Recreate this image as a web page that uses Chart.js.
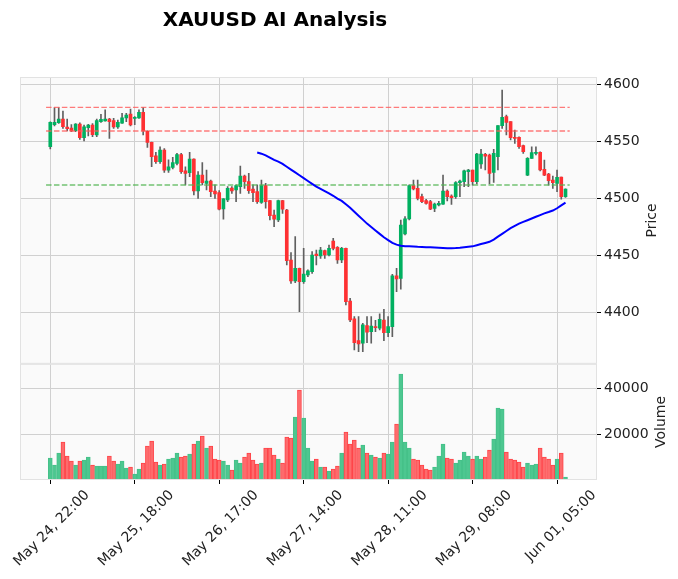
<!DOCTYPE html>
<html>
<head>
<meta charset="utf-8">
<script src="https://cdn.jsdelivr.net/npm/chart.js@4.4.0/dist/chart.umd.min.js"></script>
<style>
    html, body { margin: 0; padding: 0; background: #fff; }
    #wrap { position: relative; width: 678px; height: 579px; }
</style>
</head>
<body>
<div id="wrap"><canvas id="chart" width="678" height="579"></canvas></div>
<script>
// hourly candles
const opens = [4545.6, 4565.0, 4566.7, 4570.0, 4562.9, 4562.0, 4559.7, 4565.5, 4553.5, 4562.3,
    4564.7, 4556.0, 4567.6, 4568.2, 4570.0, 4568.5, 4563.0, 4566.4, 4571.0, 4574.3,
    4570.5, 4571.0, 4575.8, 4559.4, 4549.4, 4537.7, 4532.4, 4542.7, 4525.0, 4527.5,
    4531.0, 4538.6, 4524.5, 4522.8, 4534.8, 4506.7, 4520.7, 4513.4, 4515.5, 4506.7,
    4505.2, 4490.9, 4498.8, 4509.3, 4507.6, 4510.5, 4519.9, 4514.9, 4508.4, 4506.1,
    4496.7, 4511.4, 4498.2, 4485.6, 4481.2, 4498.2, 4490.0, 4446.0, 4427.6, 4438.7,
    4427.0, 4432.9, 4435.8, 4451.3, 4449.6, 4454.2, 4450.4, 4462.7, 4457.2, 4446.0,
    4456.3, 4410.0, 4394.2, 4375.2, 4372.8, 4388.3, 4383.1, 4387.5, 4386.0, 4393.3,
    4382.2, 4387.5, 4432.0, 4429.9, 4468.9, 4482.1, 4511.4, 4509.0, 4501.7, 4498.2,
    4497.3, 4491.4, 4494.4, 4495.2, 4506.7, 4502.3, 4501.7, 4514.0, 4514.9, 4523.7,
    4525.1, 4514.9, 4530.4, 4538.9, 4538.3, 4523.1, 4536.8, 4564.1, 4572.0, 4567.6,
    4553.8, 4553.8, 4546.5, 4520.7, 4535.4, 4539.8, 4540.6, 4525.7, 4521.6, 4516.3,
    4513.4, 4518.9, 4501.7];
const highs = [4567.5, 4580.0, 4580.0, 4577.0, 4570.0, 4565.0, 4566.0, 4566.7, 4564.7, 4565.3,
    4566.0, 4570.0, 4574.0, 4578.0, 4570.5, 4570.5, 4569.0, 4575.0, 4575.0, 4578.7,
    4572.0, 4578.0, 4580.0, 4559.6, 4549.6, 4540.6, 4545.6, 4544.0, 4534.0, 4536.3,
    4539.8, 4539.8, 4528.0, 4540.7, 4535.0, 4523.7, 4531.6, 4525.0, 4516.3, 4512.0,
    4507.0, 4500.0, 4510.5, 4510.5, 4512.0, 4528.6, 4520.7, 4522.2, 4512.0, 4512.0,
    4516.3, 4513.4, 4498.5, 4490.0, 4498.8, 4498.5, 4490.6, 4452.5, 4466.5, 4439.0,
    4456.3, 4437.3, 4453.4, 4454.8, 4457.2, 4454.8, 4459.2, 4465.0, 4457.8, 4457.2,
    4456.6, 4412.3, 4396.3, 4396.3, 4390.4, 4396.3, 4396.3, 4393.0, 4398.6, 4402.7,
    4396.3, 4433.4, 4438.7, 4481.2, 4484.1, 4512.0, 4516.3, 4516.3, 4504.0, 4499.4,
    4498.5, 4496.0, 4497.5, 4520.7, 4507.6, 4503.2, 4514.9, 4516.3, 4525.1, 4525.7,
    4525.1, 4539.8, 4543.3, 4539.8, 4539.2, 4543.3, 4564.1, 4595.4, 4573.5, 4567.6,
    4560.3, 4554.4, 4547.1, 4536.0, 4545.6, 4545.6, 4541.2, 4533.9, 4522.2, 4519.9,
    4525.1, 4519.0, 4508.6];
const lows = [4543.6, 4564.0, 4566.0, 4561.7, 4559.4, 4558.8, 4558.8, 4552.0, 4550.6, 4555.0,
    4554.4, 4554.4, 4567.0, 4568.0, 4553.0, 4561.7, 4561.7, 4566.0, 4567.6, 4564.0,
    4565.0, 4570.5, 4556.0, 4545.0, 4528.0, 4531.0, 4531.0, 4523.0, 4523.0, 4526.0,
    4529.5, 4522.2, 4512.0, 4519.3, 4503.2, 4500.2, 4512.0, 4507.6, 4501.7, 4500.2,
    4490.0, 4481.8, 4497.3, 4504.6, 4497.3, 4504.6, 4509.0, 4504.6, 4497.3, 4495.8,
    4495.8, 4491.5, 4481.2, 4475.3, 4479.7, 4487.0, 4441.6, 4425.5, 4426.0, 4400.6,
    4425.5, 4431.4, 4434.3, 4441.6, 4447.5, 4447.5, 4449.6, 4454.8, 4443.1, 4443.7,
    4406.5, 4391.9, 4367.0, 4365.5, 4365.5, 4373.4, 4372.8, 4383.0, 4384.5, 4375.0,
    4378.7, 4378.7, 4418.2, 4420.3, 4468.0, 4481.2, 4507.6, 4498.8, 4496.4, 4495.0,
    4490.2, 4488.5, 4493.5, 4494.9, 4497.9, 4494.9, 4500.2, 4501.7, 4510.5, 4510.5,
    4511.9, 4512.8, 4526.6, 4525.1, 4512.8, 4514.3, 4525.1, 4561.7, 4555.9, 4551.5,
    4548.6, 4544.2, 4539.8, 4520.1, 4535.4, 4538.3, 4524.3, 4520.1, 4511.9, 4509.0,
    4506.1, 4499.6, 4501.0];
const closes = [4567.0, 4567.0, 4570.0, 4563.2, 4561.4, 4559.4, 4565.5, 4553.5, 4563.2, 4564.7,
    4556.2, 4568.5, 4569.6, 4570.0, 4567.6, 4563.0, 4567.0, 4571.0, 4573.5, 4564.7,
    4571.5, 4575.8, 4559.4, 4549.4, 4536.8, 4532.4, 4542.7, 4525.0, 4528.0, 4531.6,
    4538.6, 4523.7, 4522.2, 4534.8, 4506.7, 4520.7, 4514.0, 4515.5, 4506.1, 4504.0,
    4490.6, 4499.7, 4509.0, 4506.7, 4511.4, 4519.9, 4514.9, 4507.0, 4505.2, 4497.3,
    4511.4, 4497.3, 4485.0, 4481.8, 4498.2, 4490.6, 4445.5, 4427.6, 4438.7, 4427.0,
    4433.7, 4436.4, 4450.4, 4449.8, 4454.8, 4450.4, 4456.3, 4456.3, 4446.0, 4456.3,
    4409.4, 4393.3, 4373.4, 4372.2, 4389.0, 4382.5, 4388.0, 4386.5, 4393.9, 4382.2,
    4387.5, 4432.0, 4429.3, 4476.8, 4482.1, 4511.4, 4508.4, 4500.2, 4497.3, 4495.8,
    4490.8, 4495.2, 4495.8, 4506.7, 4501.7, 4500.8, 4514.0, 4515.5, 4524.3, 4525.1,
    4514.9, 4539.2, 4539.2, 4537.4, 4522.2, 4539.8, 4564.1, 4571.4, 4567.0, 4553.5,
    4552.9, 4545.6, 4541.2, 4535.4, 4540.4, 4540.6, 4525.1, 4520.7, 4515.8, 4514.0,
    4518.7, 4501.7, 4508.4];
const volumes = [9565, 6520, 11740, 16520, 10430, 8260, 6520, 8260, 8700, 10000,
    6520, 6090, 6090, 6090, 10430, 8260, 6960, 8260, 5220, 5650,
    2610, 4780, 7390, 14780, 16960, 7830, 6520, 6960, 9130, 9565,
    11740, 10000, 10430, 11300, 15650, 16960, 19130, 13910, 14780, 9130,
    8700, 8260, 6520, 4350, 8700, 7390, 10000, 11740, 8700, 6960,
    7390, 13910, 13910, 10870, 9130, 7390, 18700, 18260, 27390, 39130,
    26960, 13910, 8260, 9130, 5650, 5650, 3910, 4780, 6090, 11740,
    20870, 15650, 17390, 13910, 15220, 11740, 10870, 10000, 9565, 11740,
    11300, 16520, 24350, 46090, 16520, 13910, 9130, 8700, 6520, 4780,
    4350, 5650, 10430, 15650, 9565, 9130, 7390, 8700, 12170, 10430,
    9130, 10430, 9130, 10000, 13040, 17830, 31300, 30870, 12170, 9130,
    8700, 7830, 5650, 7390, 6520, 6960, 13910, 10000, 9130, 6520,
    9130, 11740, 1300];

// moving average line, starts at candle 49
const maStart = 49;
const maValues = [4540.5, 4539.5, 4538, 4536, 4534, 4532.5, 4530.5, 4528, 4525.5, 4523,
    4520.5, 4518, 4515.5, 4513, 4510.5, 4508.5, 4506.5, 4504.5, 4502.5, 4500,
    4498, 4495, 4492, 4488.5, 4485, 4481.5, 4478, 4475, 4472, 4469,
    4466, 4463.5, 4461, 4459.5, 4458.5, 4458, 4458, 4457.8, 4457.6, 4457.5,
    4457.3, 4457.2, 4457, 4456.8, 4456.6, 4456.4, 4456.3, 4456.5, 4456.8, 4457.2,
    4457.6, 4458, 4459, 4460, 4461, 4462, 4464, 4466.5, 4469, 4471.5,
    4474, 4476, 4478, 4479.5, 4481, 4482.5, 4484, 4485.5, 4487, 4488.2,
    4489.5, 4491.5, 4494, 4496.4];

// horizontal levels
const resistanceLevels = [4580.2, 4559.4];
const supportLevels = [4512.0];
const levelSpan = [-1, 123];

const tickIndex = [0, 20, 40, 60, 80, 100, 120];
const tickLabels = ['May 24, 22:00', 'May 25, 18:00', 'May 26, 17:00', 'May 27, 14:00',
    'May 28, 11:00', 'May 29, 08:00', 'Jun 01, 05:00'];
const priceTicks = [4400, 4450, 4500, 4550, 4600];
const volumeTicks = [20000, 40000];
const chartTitle = 'XAUUSD AI Analysis';

const upColor = '#00b060';
const downColor = '#fe3032';
const idx = opens.map((_, i) => i);
const isUp = i => closes[i] >= opens[i];
const FONT = '"DejaVu Sans", sans-serif';

function levelDataset(level, color) {
    return {
        type: 'line',
        data: levelSpan.map(x => ({ x: x, y: level })),
        borderColor: color,
        borderWidth: 1.4,
        borderDash: [5.5, 2.4],
        pointRadius: 0,
        yAxisID: 'yPrice',
        order: 2
    };
}

// background, frames, title, rotated axis titles
const decor = {
    id: 'decor',
    beforeDraw(chart) {
        const { ctx, chartArea: a } = chart;
        ctx.save();
        ctx.fillStyle = '#fafafa';
        ctx.fillRect(a.left, a.top, a.right - a.left, a.bottom - a.top);
        ctx.restore();
    },
    afterDraw(chart) {
        const { ctx, chartArea: a, scales } = chart;
        ctx.save();
        ctx.strokeStyle = '#e2e2e2';
        ctx.lineWidth = 1;
        [scales.yPrice, scales.yVol].forEach(s => {
            ctx.strokeRect(a.left + 0.5, s.top + 0.5, a.right - a.left - 1, s.bottom - s.top - 1);
        });

        ctx.fillStyle = '#000';
        ctx.font = 'bold 20px ' + FONT;
        ctx.textAlign = 'center';
        ctx.textBaseline = 'alphabetic';
        ctx.fillText(chartTitle, 275, 26);

        ctx.font = '14px ' + FONT;
        [[scales.yPrice, 'Price', priceTicks], [scales.yVol, 'Volume', volumeTicks]].forEach(([s, text, ticks]) => {
            const maxW = Math.max(...ticks.map(t => ctx.measureText(String(t)).width));
            const x = s.left + 4 + 3 + maxW + 6 + 7;
            const y = (s.top + s.bottom) / 2;
            ctx.save();
            ctx.translate(x, y);
            ctx.rotate(-Math.PI / 2);
            ctx.textBaseline = 'middle';
            ctx.fillStyle = '#222';
            ctx.fillText(text, 0, 0);
            ctx.restore();
        });
        ctx.restore();
    }
};

const ctx = document.getElementById('chart').getContext('2d');
new Chart(ctx, {
    type: 'bar',
    data: {
        datasets: [
            {
                label: 'wick',
                data: idx.map(i => ({ x: i, y: [lows[i], highs[i]] })),
                backgroundColor: '#606060',
                barThickness: 1,
                grouped: false,
                yAxisID: 'yPrice',
                order: 4
            },
            {
                label: 'body',
                data: idx.map(i => ({ x: i, y: [opens[i], closes[i]] })),
                backgroundColor: idx.map(i => isUp(i) ? upColor : downColor),
                barThickness: 3,
                minBarLength: 1,
                grouped: false,
                yAxisID: 'yPrice',
                order: 3
            },
            {
                label: 'volume',
                data: idx.map(i => ({ x: i, y: volumes[i] })),
                backgroundColor: idx.map(i => isUp(i) ? '#4dc790' : '#fd6b6c'),
                borderColor: idx.map(i => isUp(i) ? '#45c189' : '#ff4348'),
                borderWidth: 1,
                barThickness: 4,
                grouped: false,
                yAxisID: 'yVol',
                order: 3
            },
            ...resistanceLevels.map(l => levelDataset(l, 'rgba(255,90,90,0.8)')),
            ...supportLevels.map(l => levelDataset(l, 'rgba(80,180,80,0.8)')),
            {
                type: 'line',
                label: 'MA',
                data: maValues.map((v, k) => ({ x: maStart + k, y: v })),
                borderColor: '#0000ff',
                borderWidth: 2,
                pointRadius: 0,
                tension: 0,
                yAxisID: 'yPrice',
                order: 1
            }
        ]
    },
    options: {
        responsive: false,
        animation: false,
        layout: { padding: { top: 77, left: 20, right: 0, bottom: 0 } },
        plugins: {
            legend: { display: false },
            tooltip: { enabled: false },
            title: { display: false }
        },
        scales: {
            yPrice: {
                type: 'linear',
                position: 'right',
                stack: 'panels',
                stackWeight: 2.47,
                min: 4354.7,
                max: 4606.9,
                afterBuildTicks: s => { s.ticks = priceTicks.map(v => ({ value: v })); },
                afterFit: s => { s.width = 81; s.paddingTop = 0; s.paddingBottom = 0; },
                grid: { color: '#d0d0d0', lineWidth: 1, tickColor: '#000', tickLength: 4, drawTicks: true },
                border: { display: false },
                ticks: {
                    padding: 3,
                    color: '#222',
                    font: { family: FONT, size: 14 },
                    callback: v => String(v)
                }
            },
            yVol: {
                type: 'linear',
                position: 'right',
                stack: 'panels',
                stackWeight: 1,
                min: 0,
                max: 50500,
                afterBuildTicks: s => { s.ticks = volumeTicks.map(v => ({ value: v })); },
                afterFit: s => { s.width = 81; s.paddingTop = 0; s.paddingBottom = 0; },
                grid: { color: '#d0d0d0', lineWidth: 1, tickColor: '#000', tickLength: 4, drawTicks: true },
                border: { display: false },
                ticks: {
                    padding: 3,
                    color: '#222',
                    font: { family: FONT, size: 14 },
                    callback: v => String(v)
                }
            },
            x: {
                type: 'linear',
                position: 'bottom',
                min: -7.17,
                max: 129.46,
                offset: false,
                afterBuildTicks: s => { s.ticks = tickIndex.map(v => ({ value: v })); },
                afterFit: s => { s.height = 99; s.paddingLeft = 0; s.paddingRight = 0; },
                grid: { color: '#d0d0d0', lineWidth: 1, offset: false, tickColor: '#000', tickLength: 4 },
                border: { display: false },
                ticks: {
                    autoSkip: false,
                    maxRotation: 45,
                    minRotation: 45,
                    padding: 3,
                    labelOffset: 37,
                    color: '#222',
                    font: { family: FONT, size: 14 },
                    callback: v => tickLabels[tickIndex.indexOf(v)]
                }
            }
        }
    },
    plugins: [decor]
});
</script>
</body>
</html>
